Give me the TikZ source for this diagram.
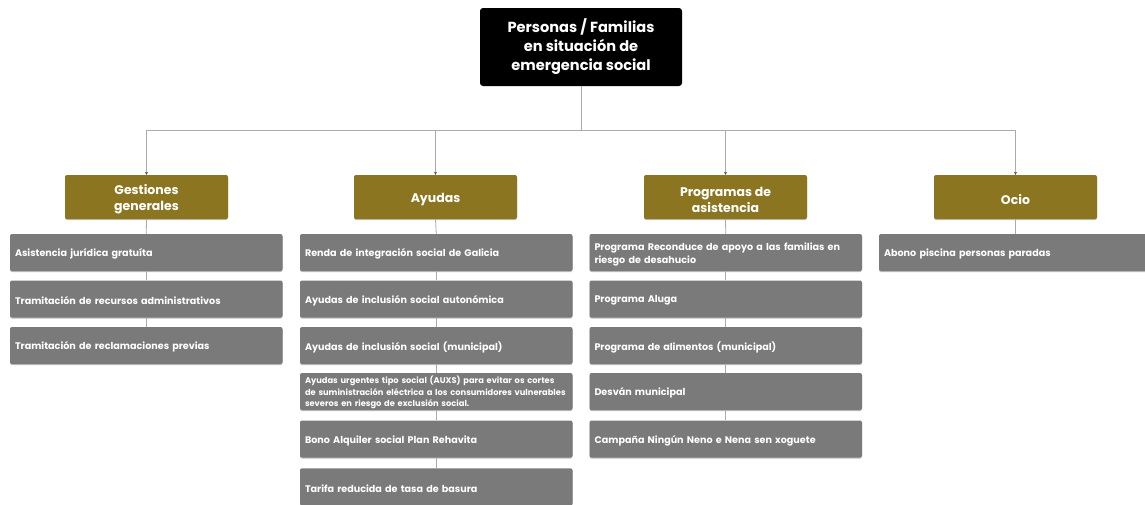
\documentclass[tikz,border=0pt]{standalone}
\usepackage{fontspec}
\setmainfont{Poppins}
\usetikzlibrary{arrows.meta,shadows}
\definecolor{olive}{HTML}{8B7520}
\definecolor{itemgrey}{HTML}{7A7A7A}
\definecolor{linegrey}{HTML}{ABABAB}
\tikzset{
  rootbox/.style={fill=black, rounded corners=3pt, minimum width=202pt, minimum height=78pt,
    text=white, align=center, font=\fontsize{14.6}{19}\selectfont\bfseries, inner sep=0pt},
  catbox/.style={fill=olive, rounded corners=2pt, minimum width=163pt, minimum height=44pt,
    inner sep=0pt,
    drop shadow={shadow xshift=0pt, shadow yshift=-1pt, opacity=0.25, fill=black}},
  cattext/.style={text=white, align=center, font=\fontsize{12.5}{16}\selectfont\bfseries,
    inner sep=0pt, yshift=-2.5pt},
  itembox/.style={fill=itemgrey, rounded corners=2pt, minimum width=272.5pt, minimum height=37pt,
    inner sep=0pt,
    drop shadow={shadow xshift=0pt, shadow yshift=-1pt, opacity=0.25, fill=black}},
  itemtext/.style={text width=262.5pt, inner sep=0pt, text=white, align=left,
    font=\fontsize{9.6}{13}\selectfont\bfseries, yshift=-1.5pt},
  smalltext/.style={font=\fontsize{8.3}{11.5}\selectfont\bfseries},
  link/.style={draw=linegrey, line width=0.8pt},
  arrowlink/.style={draw=linegrey, line width=0.8pt, -{Stealth[length=3pt,width=3pt,color=black!70]}},
}
\begin{document}
\begin{tikzpicture}[x=1pt,y=-1pt]
\useasboundingbox (0,0) rectangle (1145,504);
\clip (0,0) rectangle (1145,504);
% root
\node[rootbox] (root) at (581,47) {Personas / Familias\\en situación de\\emergencia social};
% categories
\node[catbox, label={[cattext]center:{Gestiones\\generales}}] (c1) at (146.5,197) {};
\node[catbox, label={[cattext]center:Ayudas}] (c2) at (435.5,197) {};
\node[catbox, label={[cattext]center:{Programas de\\asistencia}}] (c3) at (725.5,197) {};
\node[catbox, label={[cattext]center:Ocio}] (c4) at (1015.5,197) {};
\coordinate (bus) at (581,130);
% items column 1
\node[itembox, label={[itemtext]center:Asistencia jurídica gratuíta}] (g1) at (146.25,252.5) {};
\node[itembox, label={[itemtext]center:Tramitación de recursos administrativos}] (g2) at (146.25,299) {};
\node[itembox, label={[itemtext]center:Tramitación de reclamaciones previas}] (g3) at (146.25,345.5) {};
% items column 2
\node[itembox, label={[itemtext]center:Renda de integración social de Galicia}] (a1) at (436.25,252.5) {};
\node[itembox, label={[itemtext]center:Ayudas de inclusión social autonómica}] (a2) at (436.25,299) {};
\node[itembox, label={[itemtext]center:Ayudas de inclusión social (municipal)}] (a3) at (436.25,345.5) {};
\node[itembox, label={[itemtext,smalltext,yshift=0.5pt]center:{Ayudas urgentes tipo social (AUXS) para evitar os cortes\\de suministración eléctrica a los consumidores vulnerables\\severos en riesgo de exclusión social.}}] (a4) at (436.25,391.5) {};
\node[itembox, label={[itemtext]center:Bono Alquiler social Plan Rehavita}] (a5) at (436.25,439) {};
\node[itembox, label={[itemtext]center:Tarifa reducida de tasa de basura}] (a6) at (436.25,486.8) {};
% items column 3
\node[itembox, label={[itemtext]center:{Programa Reconduce de apoyo a las familias en\\riesgo de desahucio}}] (p1) at (725.75,252.5) {};
\node[itembox, label={[itemtext]center:Programa Aluga}] (p2) at (725.75,299) {};
\node[itembox, label={[itemtext]center:Programa de alimentos (municipal)}] (p3) at (725.75,345.5) {};
\node[itembox, label={[itemtext]center:Desván municipal}] (p4) at (725.75,391.5) {};
\node[itembox, label={[itemtext]center:Campaña Ningún Neno e Nena sen xoguete}] (p5) at (725.75,439) {};
% items column 4
\node[itembox, label={[itemtext]center:Abono piscina personas paradas}] (o1) at (1015.25,252.5) {};
% connectors root to categories
\draw[link] (root.south) -- (bus);
\foreach \c in {c1,c2,c3,c4}{
  \draw[arrowlink] (bus) -| (\c.north);
}
% connectors within columns
\draw[link] (c1.south) -- (g1.north);
\draw[link] (g1.south) -- (g2.north);
\draw[link] (g2.south) -- (g3.north);
\draw[link] (c2.south) -- (a1.north);
\draw[link] (a1.south) -- (a2.north);
\draw[link] (a2.south) -- (a3.north);
\draw[link] (a3.south) -- (a4.north);
\draw[link] (a4.south) -- (a5.north);
\draw[link] (a5.south) -- (a6.north);
\draw[link] (c3.south) -- (p1.north);
\draw[link] (p1.south) -- (p2.north);
\draw[link] (p2.south) -- (p3.north);
\draw[link] (p3.south) -- (p4.north);
\draw[link] (p4.south) -- (p5.north);
\draw[link] (c4.south) -- (c4.south |- o1.north);
\end{tikzpicture}
\end{document}
